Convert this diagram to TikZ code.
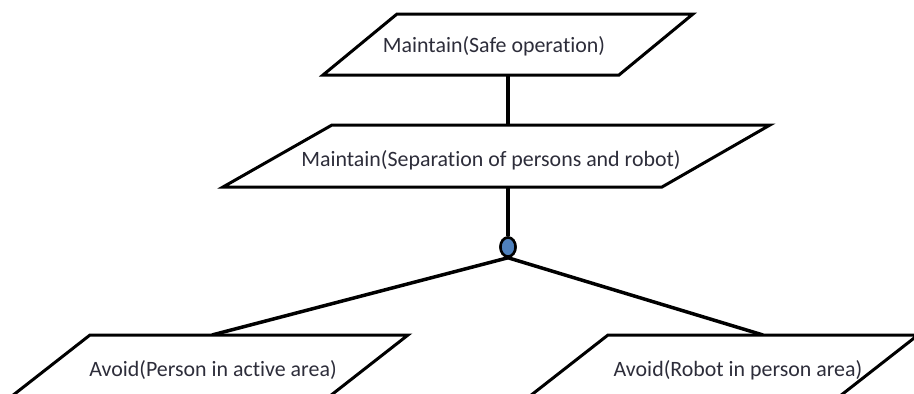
\documentclass[tikz,border=0pt]{standalone}
\usepackage{fontspec}
\setmainfont[RawFeature={-liga}]{Carlito}
\usetikzlibrary{shapes.geometric}
\definecolor{txtcol}{RGB}{45,45,58}
\definecolor{dotblue}{RGB}{79,129,189}
\tikzset{
  goalbox/.style={draw=black, line width=3pt, line join=miter, fill=white},
  goaltext/.style={inner sep=0pt, text=txtcol, font=\fontsize{21.9}{26}\selectfont},
  conn/.style={draw=black, line width=3.5pt},
  anddot/.style={ellipse, draw=black, line width=2.5pt, fill=dotblue, minimum width=15pt, minimum height=19pt, inner sep=0pt}
}
\begin{document}
\begin{tikzpicture}[x=1pt,y=-1pt]
\useasboundingbox (0,0) rectangle (914,394);
\clip (0,0) rectangle (914,394);
\fill[white] (0,0) rectangle (914,394);
% connection coordinates
\coordinate (g1b) at (508,75);
\coordinate (g2t) at (508,125);
\coordinate (g2b) at (508,187);
\coordinate (g3t) at (212,335);
\coordinate (g4t) at (763,335);
% connectors
\node[anddot] (and) at (508,247) {};
\draw[conn] (g1b) -- (g2t);
\draw[conn] (g2b) -- (and.north);
\draw[conn] (and.south) -- (g3t);
\draw[conn] (and.south) -- (g4t);
\node[anddot] at (508,247) {};
% goal boxes
\draw[goalbox] (397,14) -- (693,14) -- (619,75) -- (323,75) -- cycle;
\draw[goalbox] (332,125) -- (770,125) -- (662,187) -- (223,187) -- cycle;
\draw[goalbox] (90,335) -- (408,335) -- (330,396) -- (12,396) -- cycle;
\draw[goalbox] (608,335) -- (918,335) -- (840,396) -- (530,396) -- cycle;
% texts
\node[goaltext] (g1) at (494,46) {Maintain(Safe operation)};
\node[goaltext] (g2) at (491,160) {Maintain(Separation of persons and robot)};
\node[goaltext] (g3) at (213,370) {Avoid(Person in active area)};
\node[goaltext] (g4) at (738,370) {Avoid(Robot in person area)};
\end{tikzpicture}
\end{document}
